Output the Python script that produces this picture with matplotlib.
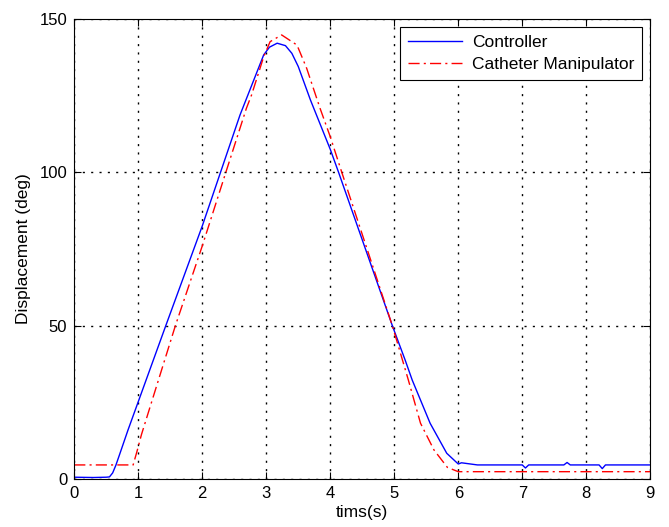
#!/usr/bin/env python3
"""
Controller vs catheter manipulator displacement
Output: out.png
"""

import matplotlib.pyplot as plt
import numpy as np

# =====================================
# Data
# =====================================
# Controller (blue, solid)
ctrl_t = [0.0, 0.3, 0.5, 0.55, 0.6, 0.65, 0.7, 0.84, 1.43, 2.0, 2.59,
          2.96, 3.05, 3.17, 3.3, 3.4, 3.5, 3.69, 4.0, 4.13, 4.97, 5.17, 5.28,
          5.56, 5.82, 6.0, 6.05, 6.3, 7.0, 7.05, 7.1, 7.65, 7.7, 7.75,
          8.2, 8.25, 8.3, 9.0]
ctrl_y = [0.6, 0.5, 0.6, 0.7, 2.0, 4.5, 7.5, 16.0, 50.0, 82.5, 118.7,
          138.3, 140.8, 142.1, 141.3, 138.8, 134.5, 123.6, 107.5, 100.0, 50.0, 38.8, 32.3,
          18.2, 8.4, 4.9, 5.3, 4.6, 4.6, 3.6, 4.6, 4.6, 5.4, 4.6,
          4.6, 3.4, 4.6, 4.6]

# Catheter manipulator (red, dash-dot)
cath_t = [0.0, 0.92, 0.98, 1.05, 1.58, 2.0, 2.33, 2.69, 2.77, 2.96, 3.06,
          3.24, 3.48, 3.63, 3.84, 4.0, 4.18, 4.97, 5.22, 5.41, 5.62, 5.83,
          6.0, 9.0]
cath_y = [4.6, 4.6, 9.0, 14.5, 50.0, 76.0, 97.5, 120.9, 125.2, 137.7, 142.6,
          144.8, 141.5, 134.0, 120.9, 111.6, 100.0, 50.0, 32.3, 18.2, 9.5, 3.8,
          2.4, 2.4]

x_ticks = [0, 1, 2, 3, 4, 5, 6, 7, 8, 9]
y_ticks = [0, 50, 100, 150]

# =====================================
# Plot
# =====================================
plt.rcParams['font.family'] = ['Liberation Sans', 'DejaVu Sans']

fig = plt.figure(figsize=(6.69, 5.27), dpi=100)
ax = fig.add_axes([0.111, 0.091, 0.861, 0.873])

ax.plot(ctrl_t, ctrl_y, color='#0000ff', linewidth=1.0, label='Controller')
ax.plot(cath_t, cath_y, color='#ff0000', linewidth=1.0,
        linestyle=(0, (8, 3, 1.5, 3)), label='Catheter Manipulator')

ax.set_xlim(0, 9)
ax.set_ylim(0, 150)
ax.set_xticks(x_ticks)
ax.set_yticks(y_ticks)
ax.tick_params(direction='in', top=True, right=True, labelsize=12,
               length=5, width=0.8, pad=5)

ax.grid(True, color='black', linestyle=(0, (1.5, 4.5)), linewidth=1.0)
for s in ax.spines.values():
    s.set_linewidth(0.8)

ax.set_xlabel('tims(s)', fontsize=12.5, labelpad=3)
ax.set_ylabel('Displacement (deg)', fontsize=12.5, labelpad=6)

leg = ax.legend(loc='upper right', fontsize=12.5, fancybox=False,
                framealpha=1, edgecolor='black', borderpad=0.45,
                handlelength=3.1, labelspacing=0.4, borderaxespad=0.45,
                handletextpad=0.6)
leg.get_frame().set_linewidth(0.8)

fig.savefig('out.png', dpi=100)
print("Saved: out.png")
